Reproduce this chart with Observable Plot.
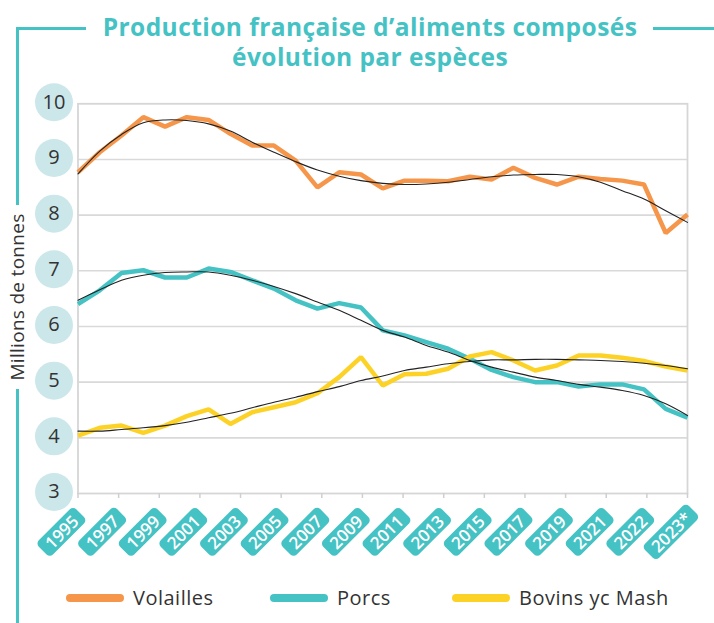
<!DOCTYPE html>
<html>
<head>
<meta charset="utf-8">
<script src="https://cdn.jsdelivr.net/npm/d3@7"></script>
<script src="https://cdn.jsdelivr.net/npm/@observablehq/plot@0.6"></script>
<style>
  body { margin: 0; background: #fff; }
  #wrap { position: relative; width: 714px; height: 623px; background: #fff; font-family: "Open Sans", sans-serif; color: #333; overflow: hidden; }
  .deco { position: absolute; background: #45C2C4; }
  #title { position: absolute; top: 12px; left: 0; width: 740px; text-align: center; font-weight: 700; font-size: 24.5px; letter-spacing: 0.45px; line-height: 30px; color: #45C2C4; }
  #ylab { position: absolute; left: -93px; top: 283px; width: 220px; height: 28px; text-align: center; transform: rotate(-90deg); font-size: 19px; letter-spacing: 0.3px; line-height: 28px; }
  #ylab span { background: #fff; padding: 0 8px; }
  #chart { position: absolute; left: 0; top: 0; }
  .leg { position: absolute; top: 586px; font-size: 20px; letter-spacing: 0.5px; line-height: 24px; display: flex; align-items: center; }
  .leg i { display: inline-block; width: 58px; height: 8px; border-radius: 4px; margin-right: 9px; }
</style>
</head>
<body>
<div id="wrap">
  <div id="chart"></div>
  <div class="deco" style="left:16px;top:27px;width:70px;height:2.5px"></div>
  <div class="deco" style="left:16px;top:27px;width:2.5px;height:600px"></div>
  <div class="deco" style="left:653px;top:27px;width:61px;height:2.5px"></div>
  <div id="title">Production française d’aliments composés<br>évolution par espèces</div>
  <div id="ylab"><span>Millions de tonnes</span></div>
  <div id="legend"></div>
</div>
<script>
const years = [1995,1996,1997,1998,1999,2000,2001,2002,2003,2004,2005,2006,2007,2008,2009,2010,2011,2012,2013,2014,2015,2016,2017,2018,2019,2020,2021,2022,2023];
const seriesNames = ["Volailles", "Porcs", "Bovins yc Mash"];
const seriesColors = ["#F5964A", "#45C2C4", "#FDD226"];
const volailles = [8.77,9.13,9.43,9.76,9.59,9.76,9.71,9.46,9.25,9.25,8.98,8.50,8.77,8.73,8.48,8.62,8.62,8.61,8.69,8.64,8.85,8.67,8.55,8.69,8.65,8.62,8.55,7.68,8.01];
const porcs = [6.40,6.65,6.96,7.01,6.88,6.88,7.04,6.98,6.83,6.68,6.47,6.32,6.42,6.34,5.93,5.84,5.72,5.60,5.42,5.22,5.09,5.00,5.00,4.92,4.96,4.96,4.87,4.52,4.36];
const bovins = [4.04,4.18,4.22,4.09,4.22,4.39,4.51,4.25,4.46,4.55,4.64,4.80,5.09,5.45,4.94,5.14,5.15,5.24,5.46,5.54,5.39,5.21,5.30,5.48,5.48,5.44,5.38,5.28,5.21];
const volaillesTrend = [8.74,9.15,9.45,9.66,9.71,9.70,9.64,9.51,9.31,9.13,8.96,8.81,8.70,8.62,8.57,8.55,8.56,8.59,8.64,8.69,8.72,8.73,8.73,8.69,8.59,8.44,8.29,8.08,7.87];
const porcsTrend = [6.47,6.66,6.83,6.92,6.97,6.98,6.98,6.92,6.83,6.72,6.59,6.44,6.29,6.11,5.93,5.81,5.66,5.54,5.39,5.27,5.18,5.09,5.03,4.96,4.91,4.85,4.76,4.61,4.40];
const bovinsTrend = [4.12,4.12,4.15,4.18,4.22,4.28,4.36,4.44,4.54,4.64,4.73,4.83,4.92,5.03,5.11,5.21,5.27,5.33,5.37,5.40,5.40,5.41,5.41,5.40,5.39,5.37,5.34,5.30,5.24];
const tickLabels = ["1995","1997","1999","2001","2003","2005","2007","2009","2011","2013","2015","2017","2019","2021","2022","2023*"];
const yTicks = [3,4,5,6,7,8,9,10];

const seriesValues = [volailles, porcs, bovins];
const trendValues = [volaillesTrend, porcsTrend, bovinsTrend];
const rows = seriesValues.flatMap((vals, s) => vals.map((v, i) => ({year: years[i], value: v, series: seriesNames[s]})));
const trendRows = trendValues.flatMap((vals, s) => vals.map((v, i) => ({year: years[i], value: v, series: seriesNames[s]})));
const x0 = years[0], x1 = years[years.length - 1];
const tickPos = tickLabels.map((_, i) => x0 + i * (x1 - x0) / (tickLabels.length - 1));
const xLabelData = tickLabels.map((t, i) => ({x: tickPos[i], t}));
const teal = "#45C2C4";

const chart = Plot.plot({
  width: 714,
  height: 572,
  marginLeft: 77.5,
  marginRight: 27,
  marginTop: 103.3,
  marginBottom: 79,
  style: {background: "none", overflow: "visible", fontFamily: "Open Sans, sans-serif"},
  x: {domain: [x0, x1]},
  y: {domain: [3, 10], axis: null},
  color: {domain: seriesNames, range: seriesColors},
  marks: [
    Plot.ruleY(yTicks.slice(1, -1), {stroke: "#d9d9d9", strokeWidth: 1.6}),
    Plot.frame({stroke: "#d6d6d6", strokeWidth: 1.8}),
    Plot.axisX({ticks: tickPos, tickSize: 5, tickFormat: () => "", stroke: "#cfcfcf", strokeWidth: 1.5}),
    Plot.dot(yTicks, {y: d => d, frameAnchor: "left", dx: -24, dy: -1.5, r: 19, fill: "#CBE7EA", stroke: null}),
    Plot.text(yTicks, {y: d => d, text: d => String(d), frameAnchor: "left", textAnchor: "middle", dx: -24, dy: -1.5, fontSize: 20, fill: "#333"}),
    Plot.line(rows, {x: "year", y: "value", z: "series", stroke: "series", strokeWidth: 4.5, strokeLinejoin: "miter", strokeLinecap: "butt"}),
    Plot.line(trendRows, {x: "year", y: "value", z: "series", stroke: "#222", strokeWidth: 1.1, curve: "catmull-rom"}),
    Plot.text(xLabelData, {x: "x", text: "t", frameAnchor: "bottom", textAnchor: "middle", dx: -12, dy: 43, rotate: -45, fill: "white", fontSize: 17, fontWeight: 600})
  ]
});

document.getElementById("chart").appendChild(chart);

d3.select(chart).selectAll("text")
  .filter(function () { return tickLabels.includes(this.textContent); })
  .each(function () {
    this.setAttribute("text-anchor", "middle");
    this.setAttribute("fill", "#ffffff");
    const bb = this.getBBox();
    const cx = bb.x + bb.width / 2, cy = bb.y + bb.height / 2;
    const w = bb.width + 14, h = 20;
    const rect = document.createElementNS("http://www.w3.org/2000/svg", "rect");
    rect.setAttribute("x", cx - w / 2);
    rect.setAttribute("y", cy - h / 2);
    rect.setAttribute("width", w);
    rect.setAttribute("height", h);
    rect.setAttribute("rx", 4.5);
    rect.setAttribute("fill", teal);
    rect.setAttribute("stroke", "none");
    const tr = this.getAttribute("transform");
    if (tr) rect.setAttribute("transform", tr);
    this.parentNode.insertBefore(rect, this);
  });

const legendPos = [66, 270, 452];
const legend = document.getElementById("legend");
seriesNames.forEach((name, i) => {
  const d = document.createElement("div");
  d.className = "leg";
  d.style.left = legendPos[i] + "px";
  d.innerHTML = `<i style="background:${seriesColors[i]}"></i><span>${name}</span>`;
  legend.appendChild(d);
});
</script>
</body>
</html>
